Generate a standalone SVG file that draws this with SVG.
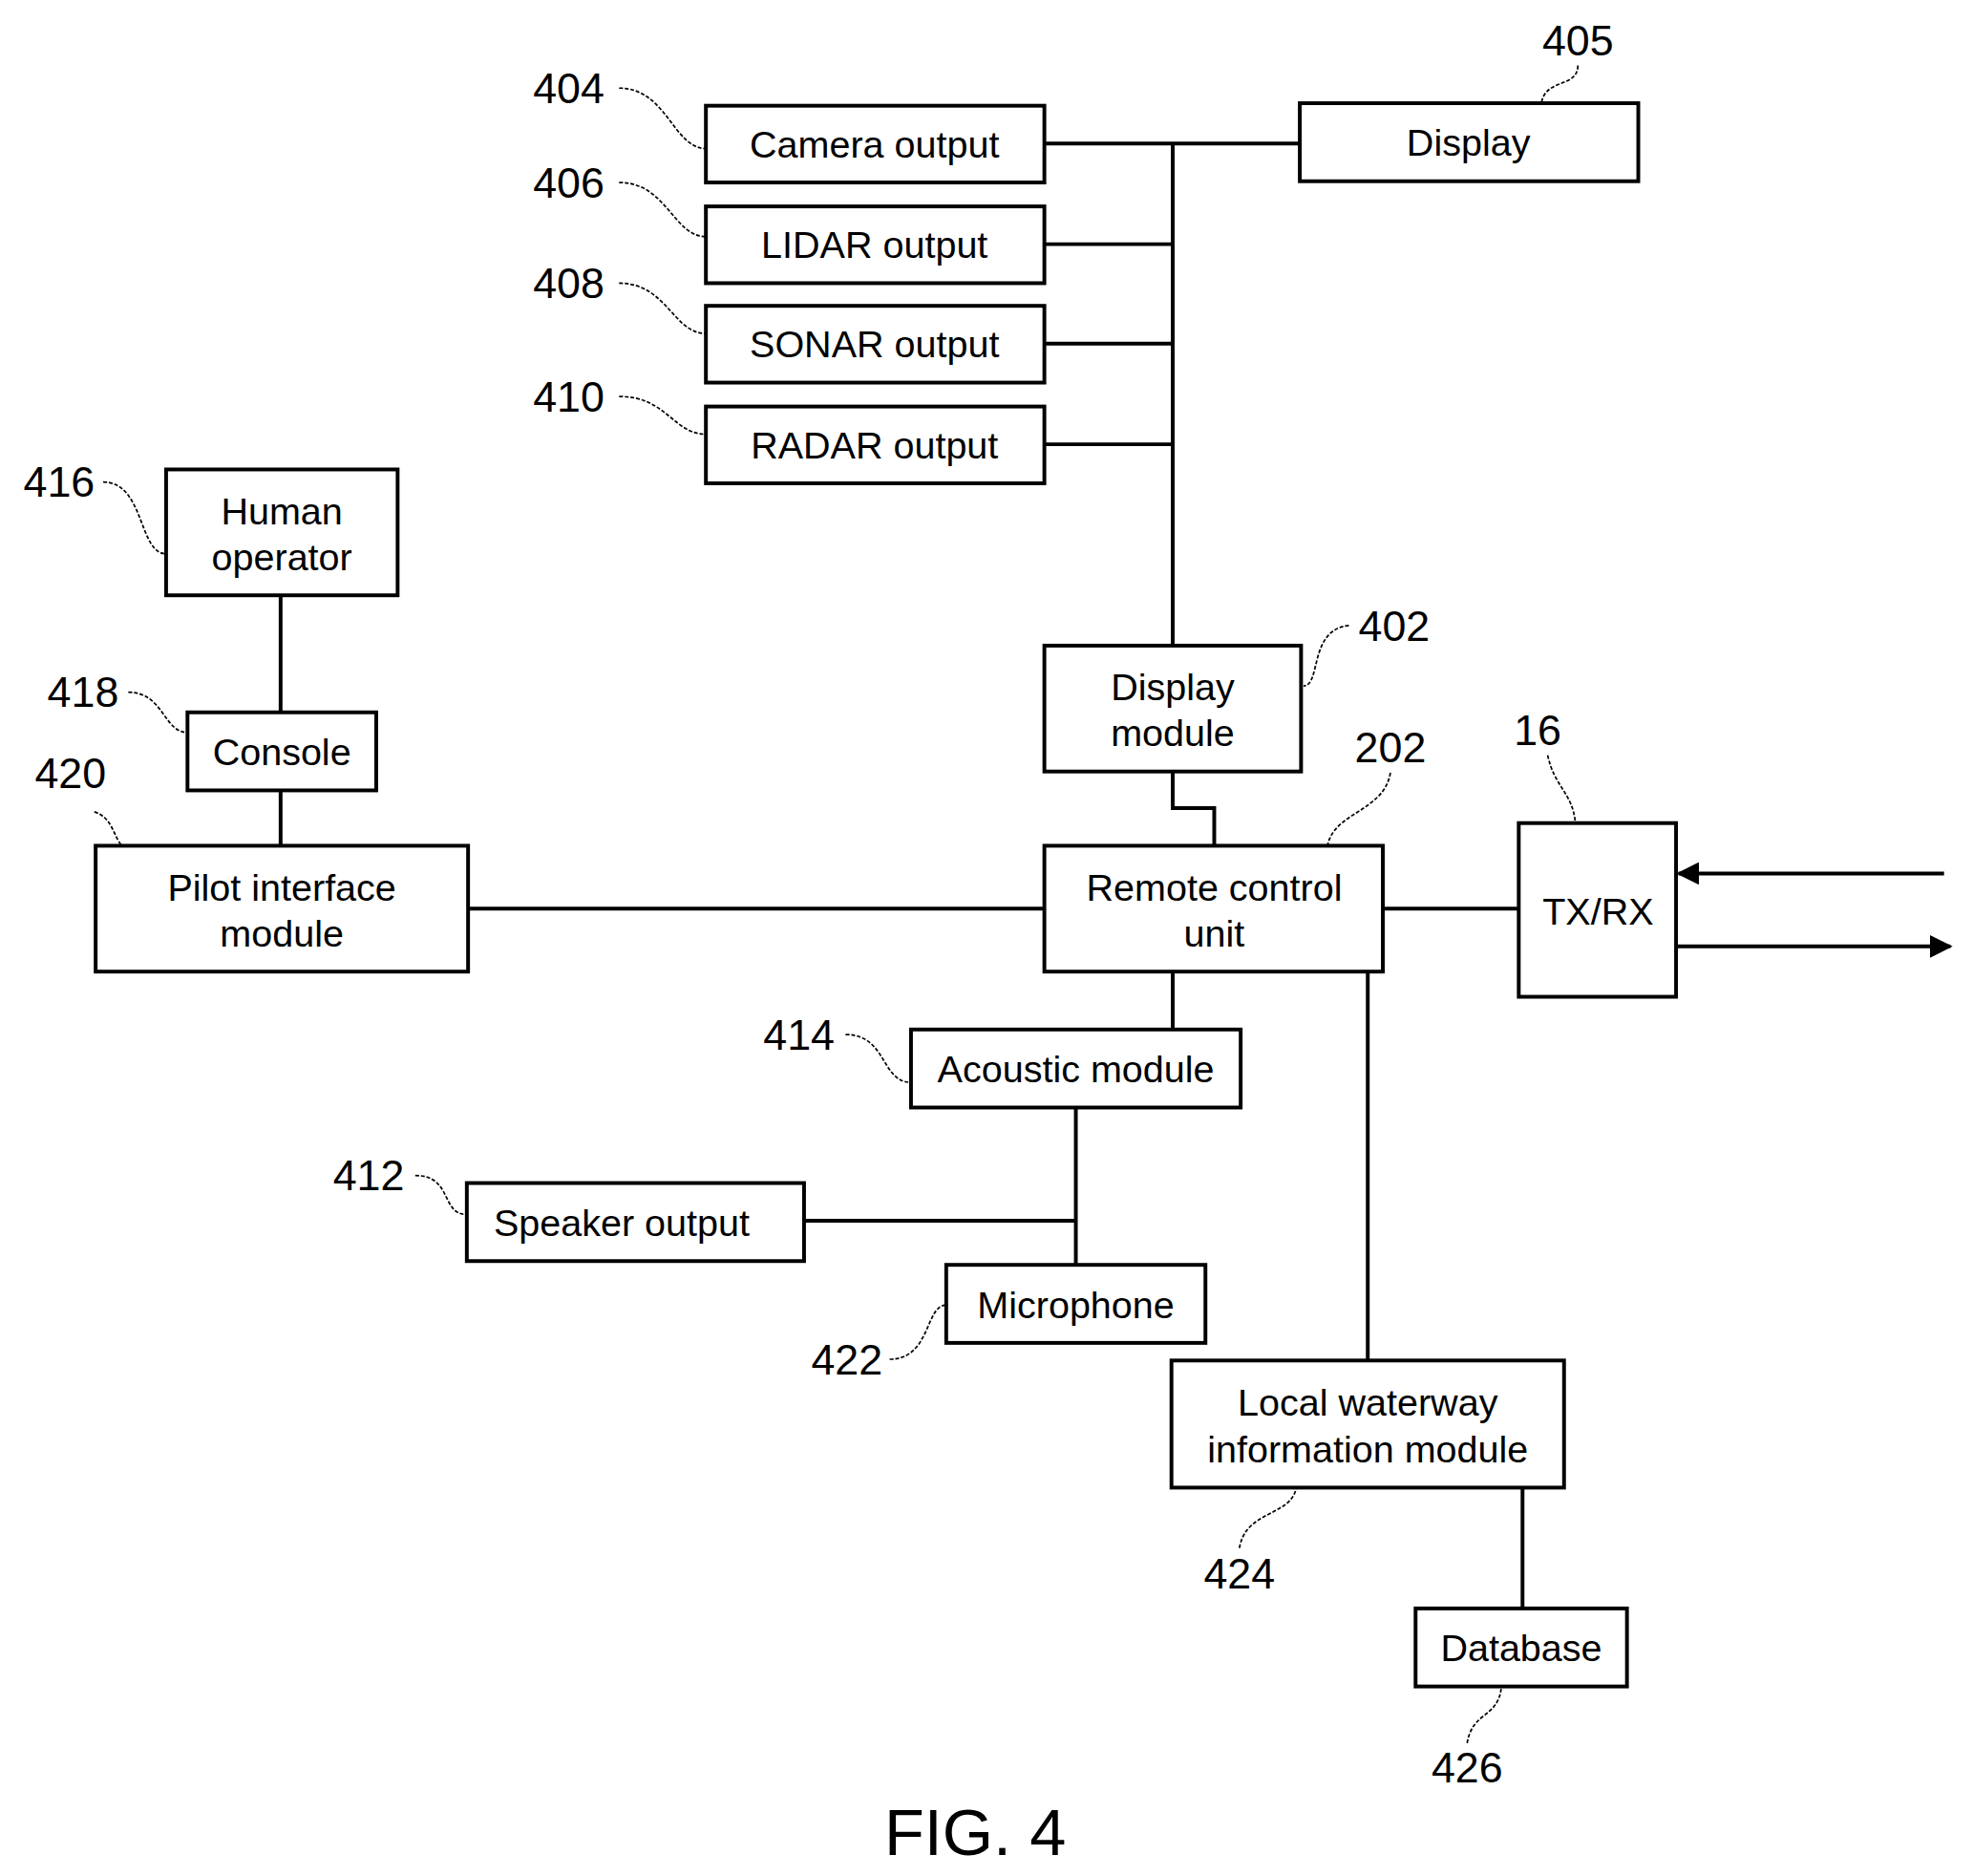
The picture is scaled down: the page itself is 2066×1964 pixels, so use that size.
<svg xmlns="http://www.w3.org/2000/svg" width="2066" height="1964" viewBox="0 0 2066 1964">
<style>
.b{fill:#fff;stroke:#000;stroke-width:3}
.t{font-family:"Liberation Sans",Arial,sans-serif;font-size:30px;text-anchor:middle;fill:#000}
.n{font-family:"Liberation Sans",Arial,sans-serif;font-size:34px;text-anchor:middle;fill:#000}
.c{fill:none;stroke:#000;stroke-width:3}
.l{fill:none;stroke:#000;stroke-width:1.3;stroke-dasharray:3 1.5}
</style>
<defs><marker id="a" viewBox="0 0 10 10" refX="9" refY="5" markerWidth="6" markerHeight="6" orient="auto"><path d="M0,0L10,5L0,10z"/></marker></defs>
<rect width="2066" height="1964" fill="#fff"/>
<g transform="scale(1.3176)">
<g id="connectors">
<path class="c" d="M932,114V513M830,114H1033M830,194H932M830,273H932M830,353H932"/>
<path class="c" d="M932,613V642H965V672M223,473V566M223,628V672M372,722H830M1099,722H1207"/>
<path class="c" d="M932,772V818M855,880V1005M639,970H855M1087,772V1081M1210,1182V1278"/>
<path class="c" d="M1545,694H1334" marker-end="url(#a)"/>
<path class="c" d="M1332,752H1550" marker-end="url(#a)"/>
</g>
<g id="leaders">
<path class="l" d="M492,70C530,70 535,118 561,118"/>
<path class="l" d="M492,145C530,145 535,188 561,188"/>
<path class="l" d="M492,225C530,225 535,265 561,265"/>
<path class="l" d="M492,315C530,315 535,345 561,345"/>
<path class="l" d="M1254,52C1254,70 1228,62 1225,82"/>
<path class="l" d="M82,383C115,383 110,440 132,440"/>
<path class="l" d="M102,550C130,550 130,582 149,582"/>
<path class="l" d="M75,645C90,650 90,665 97,672"/>
<path class="l" d="M1072,497C1040,500 1050,545 1036,545"/>
<path class="l" d="M1105,614C1100,645 1060,645 1055,672"/>
<path class="l" d="M1230,600C1235,625 1250,630 1252,654"/>
<path class="l" d="M672,822C705,822 700,860 724,860"/>
<path class="l" d="M330,934C360,934 350,965 371,965"/>
<path class="l" d="M707,1080C740,1080 735,1037 752,1037"/>
<path class="l" d="M985,1230C990,1200 1025,1205 1030,1183"/>
<path class="l" d="M1166,1385C1170,1360 1190,1365 1193,1342"/>
</g>
<g id="camera"><rect class="b" x="561" y="84" width="269" height="61"/><text class="t" x="695" y="125">Camera output</text></g>
<g id="lidar"><rect class="b" x="561" y="164" width="269" height="61"/><text class="t" x="695" y="205">LIDAR output</text></g>
<g id="sonar"><rect class="b" x="561" y="243" width="269" height="61"/><text class="t" x="695" y="284">SONAR output</text></g>
<g id="radar"><rect class="b" x="561" y="323" width="269" height="61"/><text class="t" x="695" y="364">RADAR output</text></g>
<g id="display"><rect class="b" x="1033" y="82" width="269" height="62"/><text class="t" x="1167" y="124">Display</text></g>
<g id="human"><rect class="b" x="132" y="373" width="184" height="100"/><text class="t" x="224" y="417">Human</text><text class="t" x="224" y="453">operator</text></g>
<g id="console"><rect class="b" x="149" y="566" width="150" height="62"/><text class="t" x="224" y="608">Console</text></g>
<g id="pilot"><rect class="b" x="76" y="672" width="296" height="100"/><text class="t" x="224" y="716">Pilot interface</text><text class="t" x="224" y="752">module</text></g>
<g id="dispmod"><rect class="b" x="830" y="513" width="204" height="100"/><text class="t" x="932" y="556">Display</text><text class="t" x="932" y="593">module</text></g>
<g id="rcu"><rect class="b" x="830" y="672" width="269" height="100"/><text class="t" x="965" y="716">Remote control</text><text class="t" x="965" y="752">unit</text></g>
<g id="txrx"><rect class="b" x="1207" y="654" width="125" height="138"/><text class="t" x="1270" y="735">TX/RX</text></g>
<g id="acoustic"><rect class="b" x="724" y="818" width="262" height="62"/><text class="t" x="855" y="860">Acoustic module</text></g>
<g id="speaker"><rect class="b" x="371" y="940" width="268" height="62"/><text class="t" x="494" y="982">Speaker output</text></g>
<g id="mic"><rect class="b" x="752" y="1005" width="206" height="62"/><text class="t" x="855" y="1047">Microphone</text></g>
<g id="local"><rect class="b" x="931" y="1081" width="312" height="101"/><text class="t" x="1087" y="1125">Local waterway</text><text class="t" x="1087" y="1162">information module</text></g>
<g id="database"><rect class="b" x="1125" y="1278" width="168" height="62"/><text class="t" x="1209" y="1320">Database</text></g>
<g id="numbers">
<text class="n" x="452" y="82">404</text><text class="n" x="452" y="157">406</text><text class="n" x="452" y="237">408</text><text class="n" x="452" y="327">410</text>
<text class="n" x="1254" y="44">405</text><text class="n" x="47" y="395">416</text><text class="n" x="66" y="562">418</text><text class="n" x="56" y="626">420</text>
<text class="n" x="1108" y="509">402</text><text class="n" x="1105" y="606">202</text><text class="n" x="1222" y="592">16</text>
<text class="n" x="635" y="834">414</text><text class="n" x="293" y="946">412</text><text class="n" x="673" y="1092">422</text>
<text class="n" x="985" y="1262">424</text><text class="n" x="1166" y="1416">426</text>
<text x="775" y="1474" style="font-family:'Liberation Sans',Arial,sans-serif;font-size:52px;text-anchor:middle">FIG. 4</text>
</g>
</g>
</svg>
